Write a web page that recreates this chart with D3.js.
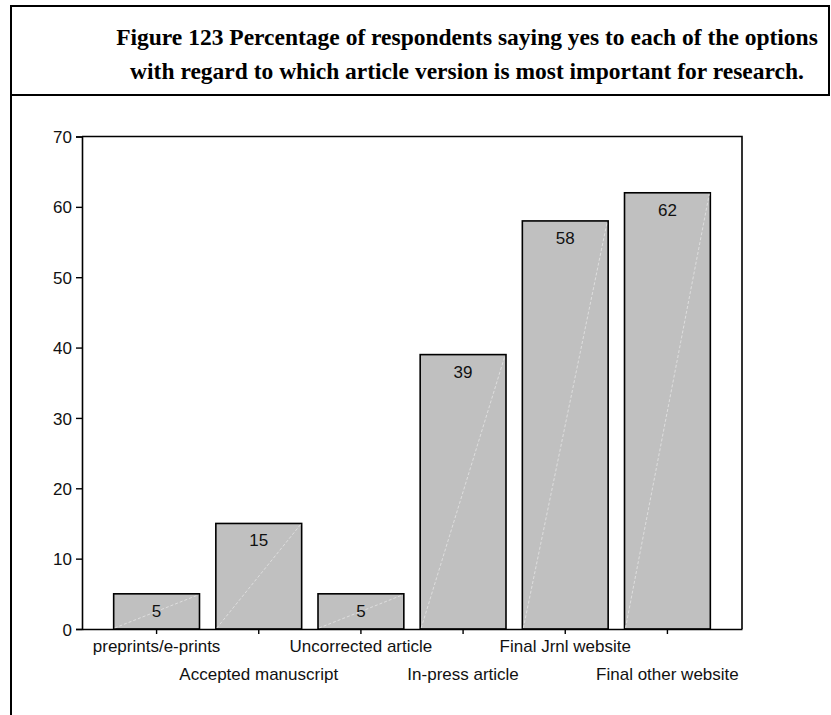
<!DOCTYPE html>
<html>
<head>
<meta charset="utf-8">
<script src="https://cdn.jsdelivr.net/npm/d3@7/dist/d3.min.js"></script>
<style>
  html, body { margin: 0; padding: 0; background: #fff; }
  svg { display: block; }
</style>
</head>
<body>
<script>
// Article versions and share of respondents (%) answering yes
const categories = [
  "preprints/e-prints",
  "Accepted manuscript",
  "Uncorrected article",
  "In-press article",
  "Final Jrnl website",
  "Final other website"
];
const values = [5, 15, 5, 39, 58, 62];
const yTicks = [0, 10, 20, 30, 40, 50, 60, 70];
const titleLines = [
  "Figure 123 Percentage of respondents saying yes to each of the options",
  "with regard to which article version is most important for research."
];

const W = 831, H = 715;
const svg = d3.select("body").append("svg")
  .attr("width", W).attr("height", H);

// Frame: title box plus left rule running down the page
const frame = svg.append("g")
  .attr("stroke", "#000").attr("stroke-width", 2).attr("fill", "none");
frame.append("rect").attr("x", 11).attr("y", 6).attr("width", 818).attr("height", 89);
frame.append("line").attr("x1", 11).attr("x2", 11).attr("y1", 95).attr("y2", H);

// Title
svg.append("g")
  .attr("font-family", "'Liberation Serif', 'Times New Roman', serif")
  .attr("font-weight", "bold")
  .attr("font-size", 23.5)
  .attr("text-anchor", "middle")
  .selectAll("text")
  .data(titleLines)
  .join("text")
  .attr("x", 467)
  .attr("y", (d, i) => 45 + i * 34)
  .text(d => d);

// Plot area
const plot = { left: 82, right: 742, top: 136.5, bottom: 629 };

const x = d3.scaleBand()
  .domain(categories)
  .range([plot.left, plot.right])
  .paddingInner(0.16)
  .paddingOuter(0.31);

const y = d3.scaleLinear()
  .domain([0, 70])
  .range([plot.bottom, plot.top]);

const font = "'Liberation Sans', Arial, sans-serif";

// Bars
const bars = svg.append("g");
bars.selectAll("rect")
  .data(values)
  .join("rect")
  .attr("x", (d, i) => x(categories[i]))
  .attr("y", d => y(d))
  .attr("width", x.bandwidth())
  .attr("height", d => y(0) - y(d))
  .attr("fill", "#c0c0c0")
  .attr("stroke", "#000")
  .attr("stroke-width", 1.6);

// Faint diagonal highlight across each bar
bars.selectAll("line")
  .data(values)
  .join("line")
  .attr("x1", (d, i) => x(categories[i]) + 1)
  .attr("y1", y(0) - 1)
  .attr("x2", (d, i) => x(categories[i]) + x.bandwidth() - 1)
  .attr("y2", d => y(d) + 1)
  .attr("stroke", "#e4e4e4")
  .attr("stroke-width", 0.8)
  .attr("stroke-dasharray", "3,2");

// Value labels inside the top of each bar
svg.append("g")
  .attr("font-family", font)
  .attr("font-size", 17)
  .attr("text-anchor", "middle")
  .attr("fill", "#111")
  .selectAll("text")
  .data(values)
  .join("text")
  .attr("x", (d, i) => x(categories[i]) + x.bandwidth() / 2)
  .attr("y", d => y(d) + 23)
  .text(d => d);

// Plot border (top and right)
svg.append("path")
  .attr("d", `M${plot.left},${plot.top}H${plot.right}V${plot.bottom}`)
  .attr("fill", "none").attr("stroke", "#000").attr("stroke-width", 1.6);

// Y axis
const yAxis = svg.append("g")
  .attr("transform", `translate(${plot.left},0)`)
  .call(d3.axisLeft(y).tickValues(yTicks).tickSize(6).tickPadding(4).tickFormat(d3.format("d")));
yAxis.select(".domain").attr("stroke", "#000").attr("stroke-width", 1.6);
yAxis.selectAll(".tick line").attr("stroke", "#000").attr("stroke-width", 1.4);
yAxis.selectAll(".tick text")
  .attr("font-family", font).attr("font-size", 17).attr("fill", "#111")
  .attr("dy", "0.36em");

// X axis with staggered labels
const xAxis = svg.append("g")
  .attr("transform", `translate(0,${plot.bottom})`)
  .call(d3.axisBottom(x).tickSize(5).tickSizeOuter(0));
xAxis.select(".domain").attr("stroke", "#000").attr("stroke-width", 1.6);
xAxis.selectAll(".tick line").attr("stroke", "#000").attr("stroke-width", 1.4);
xAxis.selectAll(".tick text")
  .attr("font-family", font).attr("font-size", 17).attr("fill", "#111")
  .attr("dy", null)
  .attr("y", (d, i) => i % 2 === 0 ? 23 : 51);
</script>
</body>
</html>
